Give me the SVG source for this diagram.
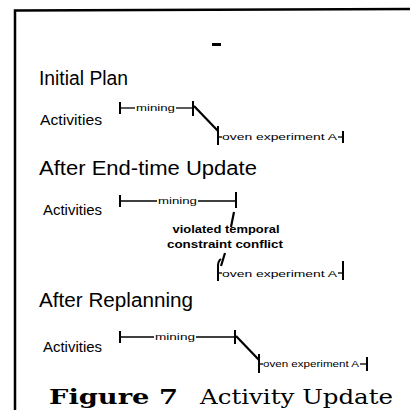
<svg xmlns="http://www.w3.org/2000/svg" width="410" height="410" viewBox="0 0 410 410">
<style>
.bg{fill:#fff}
.frame{fill:none;stroke:#000;stroke-width:2.5}
.h{font-family:"Liberation Sans",Arial,sans-serif;font-size:20px;fill:#000}
.act{font-family:"Liberation Sans",Arial,sans-serif;font-size:15px;fill:#000}
.sm{font-family:"Liberation Sans",Arial,sans-serif;font-size:9.5px;fill:#000}
.bold{font-family:"Liberation Sans",Arial,sans-serif;font-size:10.5px;font-weight:bold;fill:#000}
.ln{stroke:#000;stroke-width:1.3;fill:none}
.bar{stroke:#000;stroke-width:2;fill:none}
.diag{stroke:#000;stroke-width:2.2;fill:none}
.cap{font-family:"DejaVu Serif","Liberation Serif",serif;font-size:21px;fill:#000}
</style>
<rect class="bg" x="0" y="0" width="410" height="410"/>
<g id="frame">
<polyline class="frame" points="15,410 15,10.5 410,9"/>
<rect x="212" y="43" width="9" height="3" fill="#000"/>
</g>

<g id="initial-plan">
<text class="h" x="39" y="85" textLength="89" lengthAdjust="spacingAndGlyphs">Initial Plan</text>
<text class="act" x="40" y="125" textLength="62" lengthAdjust="spacingAndGlyphs">Activities</text>
</g>
<g id="ip-mining">
<line class="bar" x1="120" y1="102" x2="120" y2="114"/>
<text class="sm" x="136" y="111" textLength="39" lengthAdjust="spacingAndGlyphs">mining</text>
</g>
<g id="ip-oven">
<line class="bar" x1="218" y1="126" x2="218" y2="145"/>
<text class="sm" x="222" y="140" textLength="115" lengthAdjust="spacingAndGlyphs">oven experiment A</text>
<line class="bar" x1="343" y1="131" x2="343" y2="143"/>
</g>

<g id="after-update">
<text class="h" x="39" y="175" textLength="218" lengthAdjust="spacingAndGlyphs">After End-time Update</text>
<text class="act" x="43" y="215" textLength="59" lengthAdjust="spacingAndGlyphs">Activities</text>
</g>
<g id="au-mining">
<line class="bar" x1="120" y1="195" x2="120" y2="207"/>
<text class="sm" x="158" y="204" textLength="39" lengthAdjust="spacingAndGlyphs">mining</text>
</g>
<g id="au-conflict">
<text class="bold" x="226" y="233" text-anchor="middle" textLength="107" lengthAdjust="spacingAndGlyphs">violated temporal</text>
<text class="bold" x="225" y="248" text-anchor="middle" textLength="116" lengthAdjust="spacingAndGlyphs">constraint conflict</text>
</g>
<g id="au-oven">
<path class="bar" d="M221,259 Q218,261 218,266 L218,281"/>
<text class="sm" x="222" y="277" textLength="115" lengthAdjust="spacingAndGlyphs">oven experiment A</text>
<line class="bar" x1="343" y1="261" x2="343" y2="280"/>
</g>

<g id="after-replanning">
<text class="h" x="39" y="307" textLength="154" lengthAdjust="spacingAndGlyphs">After Replanning</text>
<text class="act" x="43" y="352" textLength="59" lengthAdjust="spacingAndGlyphs">Activities</text>
</g>
<g id="ar-mining">
<line class="bar" x1="120" y1="331" x2="120" y2="343"/>
<text class="sm" x="155" y="340" textLength="40" lengthAdjust="spacingAndGlyphs">mining</text>
</g>
<g id="ar-oven">
<line class="bar" x1="259" y1="354" x2="259" y2="373"/>
<text class="sm" x="263" y="367" textLength="96" lengthAdjust="spacingAndGlyphs">oven experiment A</text>
<line class="bar" x1="367" y1="357" x2="367" y2="371"/>
</g>

<g id="connectors">
<!-- initial plan -->
<line class="ln" x1="120" y1="108" x2="135" y2="108"/>
<line class="ln" x1="176" y1="108" x2="193" y2="108"/>
<line class="bar" x1="193" y1="101" x2="193" y2="116"/>
<line class="diag" x1="194" y1="106" x2="218" y2="131"/>
<line class="ln" x1="218" y1="137" x2="222" y2="137"/>
<line class="ln" x1="338" y1="137" x2="343" y2="137"/>
<!-- after update -->
<line class="ln" x1="120" y1="201" x2="157" y2="201"/>
<line class="ln" x1="198" y1="201" x2="236" y2="201"/>
<line class="bar" x1="236" y1="192" x2="236" y2="208"/>
<line class="diag" x1="234" y1="212" x2="231" y2="227"/>
<line class="diag" x1="225" y1="253" x2="221" y2="266"/>
<line class="ln" x1="218" y1="273" x2="222" y2="273"/>
<line class="ln" x1="338" y1="273" x2="343" y2="273"/>
<!-- after replanning -->
<line class="ln" x1="120" y1="337" x2="154" y2="337"/>
<line class="ln" x1="196" y1="337" x2="235" y2="337"/>
<line class="bar" x1="235" y1="330" x2="235" y2="344"/>
<line class="diag" x1="236" y1="336" x2="259" y2="360"/>
<line class="ln" x1="259" y1="364" x2="263" y2="364"/>
<line class="ln" x1="360" y1="364" x2="367" y2="364"/>
</g>

<g id="caption">
<text class="cap" x="49" y="404" font-weight="bold" textLength="129" lengthAdjust="spacingAndGlyphs">Figure 7</text>
<text class="cap" x="200" y="404" textLength="193" lengthAdjust="spacingAndGlyphs">Activity Update</text>
</g>
</svg>
